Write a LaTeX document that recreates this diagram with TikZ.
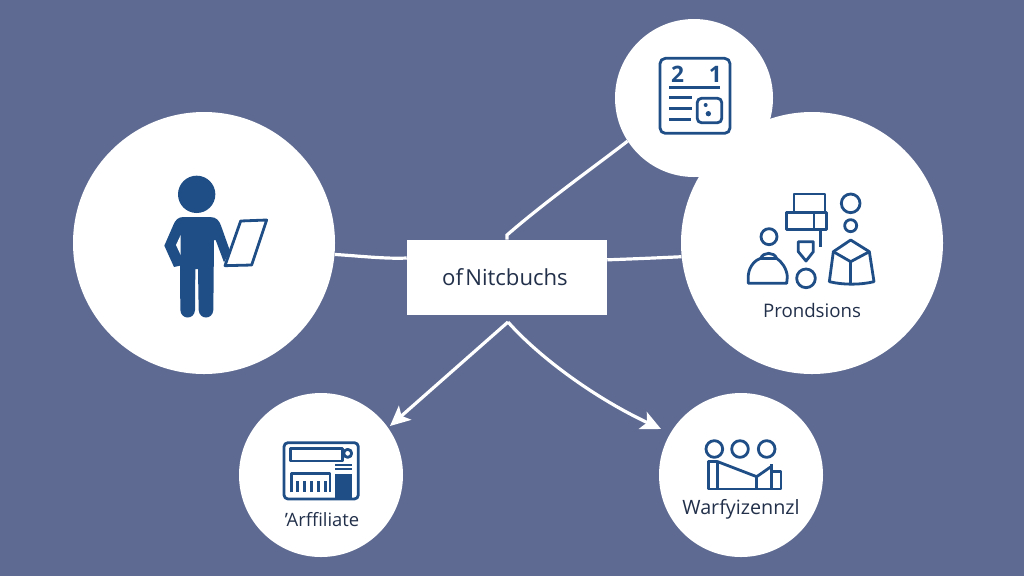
\documentclass[tikz,border=0pt]{standalone}
\usepackage{fontspec}
\setmainfont{Open Sans}
\usetikzlibrary{arrows.meta}
\definecolor{bgblue}{HTML}{5E6A91}
\definecolor{iconblue}{HTML}{1F4E86}
\definecolor{inktext}{HTML}{22304A}
\tikzset{
  x=0.75pt,y=-0.75pt,
  disc/.style={circle,fill=white,draw=none,inner sep=0pt},
  hubbox/.style={rectangle,fill=white,draw=none,inner sep=0pt,minimum width=150pt,minimum height=56.25pt,text=inktext,font=\fontsize{16.6pt}{19pt}\selectfont},
  caption/.style={inner sep=0pt,text=inktext,font=\fontsize{14pt}{16pt}\selectfont},
  link/.style={draw=white,line width=2.4pt},
  arrowlink/.style={link,-{Stealth[length=15pt,width=14pt,inset=3.5pt]}},
  iconline/.style={draw=iconblue,line width=2.1pt,line join=round,fill=none},
  iconfill/.style={fill=iconblue,draw=none},
  digit/.style={inner sep=0pt,text=iconblue,font=\fontsize{17pt}{19pt}\selectfont\bfseries},
  iconscope/.style={x=0.25pt,y=-0.25pt},
}
\begin{document}
\begin{tikzpicture}
\useasboundingbox[fill=bgblue] (0,0) rectangle (1024,576);
% discs
\node[disc,minimum size=196.5pt] (person) at (204,243) {};
\node[disc,minimum size=196.5pt] (prod) at (812,243) {};
\node[disc,minimum size=118.5pt] (cal) at (694,98) {};
\node[disc,minimum size=123pt] (aff) at (321,475) {};
\node[disc,minimum size=123pt] (war) at (741,475) {};
\node[hubbox] (hub) at (507,277.5) {\raisebox{-2.5pt}{\hspace{-3pt}of\hspace{0.1em}Nitcbuchs}};
% free ends
\coordinate (fork) at (508,322);
\coordinate (topend) at (507,235);
\coordinate (affend) at (390,426);
\coordinate (warend) at (661,429);
% connectors
\draw[link] (person.-5) .. controls (360,256) and (385,259) .. (hub.169.5);
\draw[link] (hub.10.5) .. controls (630,259) and (655,258) .. (prod.186);
\draw[link] (cal.213) .. controls (590,170) and (545,202) .. (topend) -- (hub.north);
\draw[arrowlink] (fork) -- (affend);
\draw[arrowlink] (fork) .. controls (540,358) and (595,398) .. (warend);
% labels
\node[caption] (prodlabel) at (812,310) {Prondsions};
\node[caption,font=\fontsize{13.8pt}{16pt}\selectfont] (afflabel) at (322,520) {'Arffiliate};
\node[caption,font=\fontsize{14.8pt}{16pt}\selectfont] (warlabel) at (741,509) {Warfyizennzl};
% person icon
\begin{scope}[shift={(150,165)},iconscope]
  \fill[iconblue] (140,88) circle[radius=56];
  \fill[iconblue] (100,156) -- (180,156) .. controls (200,156) and (208,168) .. (213,182) -- (240,258) -- (222,292) -- (197,225) -- (192,225) -- (190,435) .. controls (188,465) and (148,465) .. (146,435) -- (144,312) -- (136,312) -- (135,435) .. controls (133,465) and (93,465) .. (91,435) -- (90,302) -- (72,306) -- (43,242) -- (70,180) .. controls (76,165) and (85,156) .. (100,156) -- cycle;
  \fill[white] (92,210) -- (78,240) -- (92,270) -- cycle;
  \draw[iconline,fill=white] (272,168) -- (350,165) -- (305,300) -- (225,302) -- cycle;
\end{scope}
% calendar icon
\begin{scope}[shift={(640,40)},iconscope]
  \draw[iconline,rounded corners=4pt] (60,55) rectangle (270,280);
  \node[digit] (two) at (113,102) {2};
  \node[digit] (one) at (226,102) {1};
  \draw[iconline] (88,143) -- (240,143);
  \draw[iconline] (88,173) -- (155,173);
  \draw[iconline] (88,205) -- (155,205);
  \draw[iconline] (88,238) -- (152,238);
  \draw[iconline,rounded corners=3pt] (172,175) rectangle (245,248);
  \fill[iconblue] (197,195) circle[radius=6];
  \fill[iconblue] (205,221) circle[radius=8];
\end{scope}
% products icon
\begin{scope}[shift={(730,180)},iconscope]
  \draw[iconline] (192,98) -- (192,42) -- (285,42) -- (285,98);
  \draw[iconline] (170,98) rectangle (290,148);
  \draw[iconline] (252,98) -- (252,148);
  \draw[iconline] (272,148) -- (272,200);
  \draw[iconline] (362,70) circle[radius=28];
  \draw[iconline] (362,137) circle[radius=18];
  \draw[iconline] (117,170) circle[radius=24];
  \draw[iconline] (55,310) -- (55,285) .. controls (58,255) and (80,238) .. (92,235) .. controls (100,215) and (132,215) .. (140,235) .. controls (155,245) and (170,265) .. (172,290) -- (170,310) -- cycle;
  \draw[iconline] (92,235) -- (140,235);
  \draw[iconline] (205,185) -- (250,185) -- (250,215) -- (228,243) -- (205,215) -- cycle;
  \draw[iconline] (228,295) circle[radius=28];
  \draw[iconline] (362,180) -- (418,215) -- (432,305) .. controls (390,315) and (340,315) .. (298,305) -- (310,215) -- cycle;
  \draw[iconline] (310,215) -- (362,245) -- (418,215);
  \draw[iconline] (362,245) -- (362,312);
\end{scope}
% affiliate icon
\begin{scope}[shift={(270,430)},iconscope]
  \draw[iconline,rounded corners=3pt] (42,38) rectangle (265,207);
  \draw[iconline] (62,55) rectangle (218,93);
  \draw[iconline] (233,70) circle[radius=12];
  \draw[iconline,line width=1.5pt] (195,105) -- (245,105);
  \draw[iconline,line width=1.5pt] (195,118) -- (245,118);
  \fill[iconblue] (195,132) rectangle (245,205);
  \draw[iconline] (65,187) -- (65,130) -- (180,130) -- (180,187);
  \foreach \barx in {82,103,124,145,166} {
    \fill[iconblue] (\barx-5,152) rectangle (\barx+5,187);
  }
\end{scope}
% warranty icon
\begin{scope}[shift={(675,425)},iconscope]
  \draw[iconline] (118,72) circle[radius=25];
  \draw[iconline] (195,72) circle[radius=25];
  \draw[iconline] (275,72) circle[radius=25];
  \draw[iconline] (100,110) rectangle (128,192);
  \draw[iconline] (128,110) -- (245,155) -- (288,125);
  \draw[iconline] (245,155) -- (245,192);
  \draw[iconline] (128,192) -- (318,192) -- (318,140) -- (290,140);
  \draw[iconline] (290,118) -- (290,192);
\end{scope}
\end{tikzpicture}
\end{document}
